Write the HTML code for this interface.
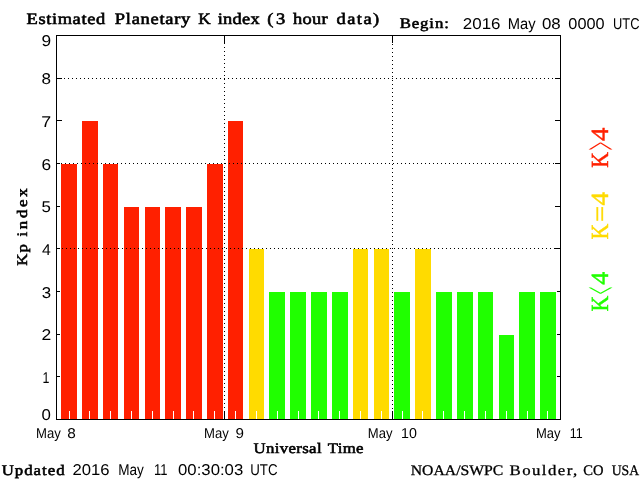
<!DOCTYPE html>
<html><head><meta charset="utf-8"><title>Estimated Planetary K index</title>
<style>
html,body{margin:0;padding:0;background:#fff;}
svg{display:block;}
.s{font:15.6px "Liberation Sans",sans-serif;}
.x{font:14.3px "Liberation Sans",sans-serif;}
.c{font:14.6px "Liberation Serif",serif;}
.b{font:16px "Liberation Serif",serif;}
.r{font:14.6px "Liberation Serif",serif;}
.k{font:24.6px "Liberation Serif",serif;}
.b{stroke:#000;stroke-width:0.6px;}
.c{stroke:#000;stroke-width:0.55px;}
.r{stroke:#000;stroke-width:0.3px;}
</style></head><body>
<svg width="640" height="480" viewBox="0 0 640 480" text-rendering="geometricPrecision">
<rect x="0" y="0" width="640" height="480" fill="#fff"/>
<g shape-rendering="crispEdges">
<rect x="56" y="376" width="6" height="1" fill="#000"/>
<rect x="555" y="376" width="6" height="1" fill="#000"/>
<rect x="56" y="334" width="6" height="1" fill="#000"/>
<rect x="555" y="334" width="6" height="1" fill="#000"/>
<rect x="56" y="291" width="6" height="1" fill="#000"/>
<rect x="555" y="291" width="6" height="1" fill="#000"/>
<rect x="56" y="248" width="6" height="1" fill="#000"/>
<rect x="555" y="248" width="6" height="1" fill="#000"/>
<rect x="56" y="206" width="6" height="1" fill="#000"/>
<rect x="555" y="206" width="6" height="1" fill="#000"/>
<rect x="56" y="163" width="6" height="1" fill="#000"/>
<rect x="555" y="163" width="6" height="1" fill="#000"/>
<rect x="56" y="120" width="6" height="1" fill="#000"/>
<rect x="555" y="120" width="6" height="1" fill="#000"/>
<rect x="56" y="78" width="6" height="1" fill="#000"/>
<rect x="555" y="78" width="6" height="1" fill="#000"/>
<rect x="60" y="163" width="18" height="256" fill="#fff"/>
<rect x="61" y="164" width="16" height="255" fill="#ff2000"/>
<rect x="81" y="120" width="18" height="299" fill="#fff"/>
<rect x="82" y="121" width="16" height="298" fill="#ff2000"/>
<rect x="102" y="163" width="17" height="256" fill="#fff"/>
<rect x="103" y="164" width="15" height="255" fill="#ff2000"/>
<rect x="123" y="206" width="17" height="213" fill="#fff"/>
<rect x="124" y="207" width="15" height="212" fill="#ff2000"/>
<rect x="144" y="206" width="17" height="213" fill="#fff"/>
<rect x="145" y="207" width="15" height="212" fill="#ff2000"/>
<rect x="164" y="206" width="18" height="213" fill="#fff"/>
<rect x="165" y="207" width="16" height="212" fill="#ff2000"/>
<rect x="185" y="206" width="18" height="213" fill="#fff"/>
<rect x="186" y="207" width="16" height="212" fill="#ff2000"/>
<rect x="206" y="163" width="18" height="256" fill="#fff"/>
<rect x="207" y="164" width="16" height="255" fill="#ff2000"/>
<rect x="227" y="120" width="17" height="299" fill="#fff"/>
<rect x="228" y="121" width="15" height="298" fill="#ff2000"/>
<rect x="248" y="248" width="17" height="171" fill="#fff"/>
<rect x="249" y="249" width="15" height="170" fill="#ffdb00"/>
<rect x="268" y="291" width="18" height="128" fill="#fff"/>
<rect x="269" y="292" width="16" height="127" fill="#20ff00"/>
<rect x="289" y="291" width="18" height="128" fill="#fff"/>
<rect x="290" y="292" width="16" height="127" fill="#20ff00"/>
<rect x="310" y="291" width="18" height="128" fill="#fff"/>
<rect x="311" y="292" width="16" height="127" fill="#20ff00"/>
<rect x="331" y="291" width="18" height="128" fill="#fff"/>
<rect x="332" y="292" width="16" height="127" fill="#20ff00"/>
<rect x="352" y="248" width="17" height="171" fill="#fff"/>
<rect x="353" y="249" width="15" height="170" fill="#ffdb00"/>
<rect x="373" y="248" width="17" height="171" fill="#fff"/>
<rect x="374" y="249" width="15" height="170" fill="#ffdb00"/>
<rect x="393" y="291" width="18" height="128" fill="#fff"/>
<rect x="394" y="292" width="16" height="127" fill="#20ff00"/>
<rect x="414" y="248" width="18" height="171" fill="#fff"/>
<rect x="415" y="249" width="16" height="170" fill="#ffdb00"/>
<rect x="435" y="291" width="18" height="128" fill="#fff"/>
<rect x="436" y="292" width="16" height="127" fill="#20ff00"/>
<rect x="456" y="291" width="18" height="128" fill="#fff"/>
<rect x="457" y="292" width="16" height="127" fill="#20ff00"/>
<rect x="477" y="291" width="17" height="128" fill="#fff"/>
<rect x="478" y="292" width="15" height="127" fill="#20ff00"/>
<rect x="498" y="334" width="17" height="85" fill="#fff"/>
<rect x="499" y="335" width="15" height="84" fill="#20ff00"/>
<rect x="518" y="291" width="18" height="128" fill="#fff"/>
<rect x="519" y="292" width="16" height="127" fill="#20ff00"/>
<rect x="539" y="291" width="18" height="128" fill="#fff"/>
<rect x="540" y="292" width="16" height="127" fill="#20ff00"/>
<rect x="69" y="411" width="1" height="8" fill="#fff"/>
<rect x="89" y="411" width="1" height="8" fill="#fff"/>
<rect x="110" y="411" width="1" height="8" fill="#fff"/>
<rect x="131" y="411" width="1" height="8" fill="#fff"/>
<rect x="152" y="411" width="1" height="8" fill="#fff"/>
<rect x="173" y="411" width="1" height="8" fill="#fff"/>
<rect x="193" y="411" width="1" height="8" fill="#fff"/>
<rect x="214" y="411" width="1" height="8" fill="#fff"/>
<rect x="235" y="411" width="1" height="8" fill="#fff"/>
<rect x="256" y="411" width="1" height="8" fill="#fff"/>
<rect x="277" y="411" width="1" height="8" fill="#fff"/>
<rect x="298" y="411" width="1" height="8" fill="#fff"/>
<rect x="318" y="411" width="1" height="8" fill="#fff"/>
<rect x="339" y="411" width="1" height="8" fill="#fff"/>
<rect x="360" y="411" width="1" height="8" fill="#fff"/>
<rect x="381" y="411" width="1" height="8" fill="#fff"/>
<rect x="402" y="411" width="1" height="8" fill="#fff"/>
<rect x="422" y="411" width="1" height="8" fill="#fff"/>
<rect x="443" y="411" width="1" height="8" fill="#fff"/>
<rect x="464" y="411" width="1" height="8" fill="#fff"/>
<rect x="485" y="411" width="1" height="8" fill="#fff"/>
<rect x="506" y="411" width="1" height="8" fill="#fff"/>
<rect x="527" y="411" width="1" height="8" fill="#fff"/>
<rect x="547" y="411" width="1" height="8" fill="#fff"/>
<line x1="56" y1="78.5" x2="560" y2="78.5" stroke="#000" stroke-width="1" stroke-dasharray="1 3"/>
<line x1="57" y1="163.5" x2="560" y2="163.5" stroke="#000" stroke-width="1" stroke-dasharray="1 3"/>
<line x1="58" y1="248.5" x2="560" y2="248.5" stroke="#000" stroke-width="1" stroke-dasharray="1 3"/>
<rect x="224" y="411" width="1" height="8" fill="#000"/>
<rect x="224" y="35" width="1" height="8" fill="#000"/>
<line x1="224.5" y1="35" x2="224.5" y2="419" stroke="#000" stroke-width="1" stroke-dasharray="1 3"/>
<rect x="392" y="411" width="1" height="8" fill="#000"/>
<rect x="392" y="35" width="1" height="8" fill="#000"/>
<line x1="392.5" y1="36" x2="392.5" y2="419" stroke="#000" stroke-width="1" stroke-dasharray="1 3"/>
<rect x="56" y="35" width="505" height="1" fill="#000"/>
<rect x="56" y="419" width="505" height="1" fill="#000"/>
<rect x="56" y="35" width="1" height="385" fill="#000"/>
<rect x="560" y="35" width="1" height="385" fill="#000"/>
</g>
<text class="b" transform="translate(26.54,24) scale(1.1500,1)" style="letter-spacing:0.543px">Estimated</text>
<text class="b" transform="translate(114.84,24) scale(1.1500,1)" style="letter-spacing:0.649px">Planetary</text>
<text class="b" transform="translate(198.27,24) scale(1.0727,1)">K</text>
<text class="b" transform="translate(217.66,24) scale(1.1500,1)" style="letter-spacing:0.235px">index</text>
<text class="b" transform="translate(267.19,24) scale(1.1500,1)" style="letter-spacing:2.320px">(3</text>
<text class="b" transform="translate(292.88,24) scale(1.1500,1)" style="letter-spacing:0.300px">hour</text>
<text class="b" transform="translate(336.43,24) scale(1.1500,1)" style="letter-spacing:1.310px">data)</text>
<text class="c" transform="translate(399.74,28) scale(1.1500,1)" style="letter-spacing:0.751px">Begin:</text>
<text class="s" transform="translate(462.84,29) scale(1.0862,1)">2016</text>
<text class="s" transform="translate(507.67,29) scale(0.9444,1)">May</text>
<text class="s" transform="translate(541.95,29) scale(1.0824,1)">08</text>
<text class="s" transform="translate(568.37,29) scale(1.0439,1)">0000</text>
<text class="s" transform="translate(613.01,29) scale(0.8252,1)">UTC</text>
<text class="x" transform="translate(35.99,438) scale(0.9166,1)">May</text>
<text class="x" transform="translate(67.36,438) scale(1.0735,1)">8</text>
<text class="x" transform="translate(203.99,438) scale(0.9166,1)">May</text>
<text class="x" transform="translate(235.56,438) scale(1.0597,1)">9</text>
<text class="x" transform="translate(367.80,438) scale(0.9128,1)">May</text>
<text class="x" transform="translate(401.00,438) scale(0.9963,1)">10</text>
<text class="x" transform="translate(536.00,438) scale(0.9089,1)">May</text>
<text class="x" transform="translate(569.63,438) scale(0.8718,1)">11</text>
<text class="c" transform="translate(253.46,453) scale(1.1500,1)" style="letter-spacing:0.311px">Universal</text>
<text class="c" transform="translate(327.77,453) scale(1.1500,1)" style="letter-spacing:0.272px">Time</text>
<text class="c" transform="translate(1.66,475) scale(1.1500,1)" style="letter-spacing:0.881px">Updated</text>
<text class="s" transform="translate(72.45,475) scale(1.0682,1)">2016</text>
<text class="s" transform="translate(118.16,475) scale(0.8702,1)">May</text>
<text class="s" transform="translate(154.08,475) scale(0.8323,1)">11</text>
<text class="s" transform="translate(178.06,475) scale(1.0732,1)">00:30:03</text>
<text class="s" transform="translate(250.18,475) scale(0.8516,1)">UTC</text>
<text class="r" transform="translate(410.77,475) scale(1.0760,1)">NOAA/SWPC</text>
<text class="r" transform="translate(509.54,475) scale(1.1500,1)" style="letter-spacing:1.257px">Boulder,</text>
<text class="r" transform="translate(583.30,475) scale(0.9980,1)">CO</text>
<text class="r" transform="translate(611.72,475) scale(0.9354,1)">USA</text>
<text class="s" transform="translate(41.55,420) scale(1.0800,1)">0</text>
<text class="s" transform="translate(42.52,383) scale(0.7971,1)">1</text>
<text class="s" transform="translate(41.41,340) scale(1.1250,1)">2</text>
<text class="s" transform="translate(41.66,298) scale(1.0800,1)">3</text>
<text class="s" transform="translate(41.90,255) scale(1.0125,1)">4</text>
<text class="s" transform="translate(41.55,212) scale(1.0800,1)">5</text>
<text class="s" transform="translate(41.42,170) scale(1.1096,1)">6</text>
<text class="s" transform="translate(41.29,127) scale(1.1408,1)">7</text>
<text class="s" transform="translate(41.54,84) scale(1.0946,1)">8</text>
<text class="s" transform="translate(41.42,46) scale(1.1096,1)">9</text>
<g transform="translate(27.2,265.3) rotate(-90)" fill="#000"><text class="c" transform="translate(-0.46,0) scale(1.1500,1)" style="letter-spacing:1.056px">Kp</text></g>
<g transform="translate(27.2,236.2) rotate(-90)" fill="#000"><text class="c" transform="translate(-0.34,0) scale(1.1500,1)" style="letter-spacing:2.360px">index</text></g>
<g transform="translate(608,167.2) rotate(-90)" fill="#ff2000" stroke="#ff2000" stroke-width="0.45"><text class="k" transform="translate(-0.62,0) scale(0.8817,1)">K</text></g>
<g transform="translate(608,140.5) rotate(-90)" fill="#ff2000" stroke="#ff2000" stroke-width="0.45"><text class="k" transform="translate(-0.44,0) scale(1.0948,1)">4</text></g>
<g transform="translate(608,239) rotate(-90)" fill="#ffdb00" stroke="#ffdb00" stroke-width="0.45"><text class="k" transform="translate(-0.62,0) scale(0.8876,1)">K</text></g>
<g transform="translate(608,220.6) rotate(-90)" fill="#ffdb00" stroke="#ffdb00" stroke-width="0.45"><text class="k" transform="translate(-1.39,0) scale(1.1565,1)">=</text></g>
<g transform="translate(608,205) rotate(-90)" fill="#ffdb00" stroke="#ffdb00" stroke-width="0.45"><text class="k" transform="translate(-0.44,0) scale(1.0948,1)">4</text></g>
<g transform="translate(608,311) rotate(-90)" fill="#20ff00" stroke="#20ff00" stroke-width="0.45"><text class="k" transform="translate(-0.62,0) scale(0.8876,1)">K</text></g>
<g transform="translate(608,284.3) rotate(-90)" fill="#20ff00" stroke="#20ff00" stroke-width="0.45"><text class="k" transform="translate(-0.42,0) scale(1.0603,1)">4</text></g>
<g transform="translate(608,149.5) rotate(-90) translate(-0.73,9.44) scale(0.609,2.017)" fill="#ff2000"><text class="k" x="0" y="0">&gt;</text></g>
<g transform="translate(608,293.8) rotate(-90) translate(-0.67,9.44) scale(0.557,2.017)" fill="#20ff00"><text class="k" x="0" y="0">&lt;</text></g>
</svg></body></html>
